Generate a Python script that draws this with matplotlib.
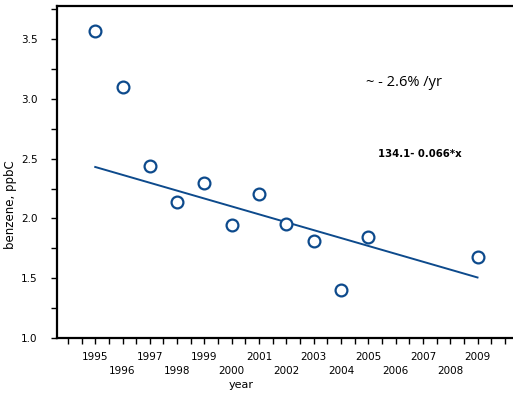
import matplotlib
matplotlib.use("Agg")
import matplotlib.pyplot as plt
import numpy as np
from matplotlib.ticker import MultipleLocator

years = [1995, 1996, 1997, 1998, 1999, 2000, 2001, 2002, 2003, 2004, 2005, 2009]
benzene = [3.57, 3.10, 2.44, 2.14, 2.30, 1.945, 2.20, 1.955, 1.81, 1.40, 1.845, 1.68]
fit_intercept = 134.1
fit_slope = -0.066
tick_years = list(range(1995, 2010))
ytick_vals = [1.0, 1.5, 2.0, 2.5, 3.0, 3.5]
trend_text = "~ - 2.6% /yr"
eq_text = "134.1- 0.066*x"

color = "#0d4a8c"
narrow = ["Liberation Sans Narrow", "DejaVu Sans"]

fig = plt.figure(figsize=(5.13, 4.0), dpi=100)
ax = fig.add_axes([57/513, 62/400, 1 - 57/513, 332/400])

ax.plot(years, benzene, linestyle="none", marker="o", markersize=8.5,
        markerfacecolor="white", markeredgecolor=color, markeredgewidth=1.6, zorder=3)
xf = np.array([years[0], years[-1]])
ax.plot(xf, fit_intercept + fit_slope * xf, color=color, lw=1.4, zorder=2)

ax.set_xlim(1993.6, 2010.3)
ax.set_ylim(1.0, 3.776)

ax.spines["right"].set_visible(False)
for s in ["left", "bottom", "top"]:
    ax.spines[s].set_linewidth(1.6)

ax.set_xticks(tick_years)
ax.set_xticklabels([str(y) for y in tick_years], family=narrow, fontsize=7.5)
ax.xaxis.set_minor_locator(MultipleLocator(0.5))
ax.tick_params(axis="x", which="both", direction="out", length=4, width=1, pad=6)
for t, y in zip(ax.xaxis.get_major_ticks(), tick_years):
    if y % 2 == 0:
        t.set_pad(16)

ax.set_yticks(ytick_vals)
ax.set_yticklabels([f"{v:.1f}" for v in ytick_vals], family=narrow, fontsize=7.5)
ax.yaxis.set_minor_locator(MultipleLocator(0.25))
ax.tick_params(axis="y", which="both", direction="out", length=4, width=1, pad=10)

fig.text(241/513, 1 - 385/400, "year", family=narrow, fontsize=8, ha="center", va="center")
fig.text(11/513, 1 - 205/400, "benzene, ppbC", family=narrow, fontsize=8.5,
         rotation=90, ha="center", va="center")

fig.text(366/513, 1 - 83/400, trend_text, fontsize=10.5,
         family=["Open Sans", "DejaVu Sans"], va="center", ha="left")
ax.text(2005.34, 2.535, eq_text, family=narrow, fontsize=7.3, fontweight="bold",
        va="center", ha="left")

fig.savefig("out.png", dpi=100)
